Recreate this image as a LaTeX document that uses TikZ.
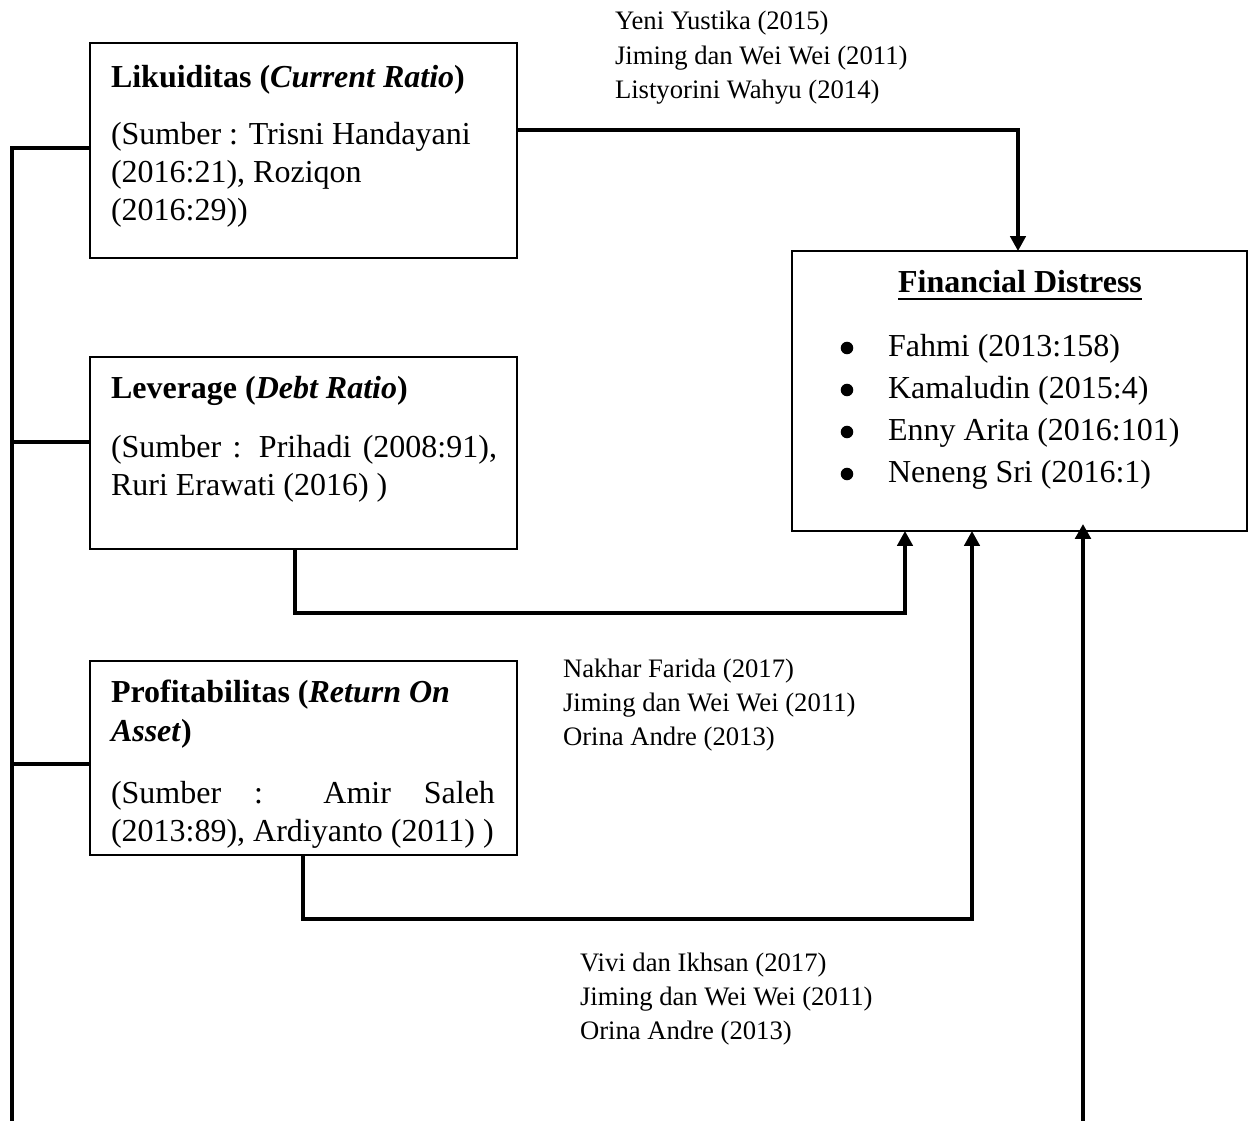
\documentclass[tikz,border=0pt]{standalone}
\usepackage{fontspec}
\setmainfont{Liberation Serif}
\usetikzlibrary{arrows.meta}
\tikzset{
  box/.style={draw, line width=0.55pt, inner sep=0pt, outer sep=0pt, anchor=north west},
  txt/.style={inner sep=0pt, outer sep=0pt, anchor=base west, font=\fontsize{12}{14.4}\selectfont},
  small/.style={inner sep=0pt, outer sep=0pt, anchor=base west, font=\fontsize{10}{12}\selectfont},
  conn/.style={line width=1.2pt},
  thickconn/.style={line width=1.5pt},
  tip/.style={-{Triangle[width=5.8pt,length=5.6pt]}},
  dot/.style={circle, fill=black, inner sep=0pt, minimum size=4.7pt},
}
\begin{document}
\begin{tikzpicture}[x=0.375pt,y=-0.375pt]
\useasboundingbox (0,0) rectangle (1255,1121);

% boxes
\node[box, minimum width={427*0.375pt}, minimum height={215*0.375pt}] (b1) at (90,43) {};
\node[box, minimum width={427*0.375pt}, minimum height={192*0.375pt}] (b2) at (90,357) {};
\node[box, minimum width={427*0.375pt}, minimum height={194*0.375pt}] (b3) at (90,661) {};
\node[box, minimum width={455*0.375pt}, minimum height={280*0.375pt}] (fd) at (792,251) {};

% box 1 text
\node[txt] (t1a) at (111,88) {\textbf{Likuiditas (\textit{Current Ratio})}};
\node[txt] (t1b) at (111,145) {(Sumber : Trisni Handayani};
\node[txt] (t1c) at (111,183) {(2016:21), Roziqon};
\node[txt] (t1d) at (111,221) {(2016:29))};

% box 2 text
\node[txt] (t2a) at (111,399) {\textbf{Leverage (\textit{Debt Ratio})}};
\node[txt] (t2b) at (111,458) {\makebox[144.75pt][s]{(Sumber : Prihadi (2008:91),}};
\node[txt] (t2c) at (111,496) {Ruri Erawati (2016) )};

% box 3 text
\node[txt] (t3a) at (111,703) {\textbf{Profitabilitas (\textit{Return On}}};
\node[txt] (t3b) at (111,742) {\textbf{\textit{Asset})}};
\node[txt] (t3c) at (111,804) {\makebox[144pt][s]{(Sumber : Amir Saleh}};
\node[txt] (t3d) at (111,842) {(2013:89), Ardiyanto (2011) )};

% financial distress text
\node[txt, anchor=base] (ttl) at (1020,293) {\textbf{Financial Distress}};
\draw[line width=1pt] ([yshift=-2.3pt]ttl.base west) -- ([yshift=-2.3pt]ttl.base east);
\node[dot] (bu1) at (847,348) {};
\node[dot] (bu2) at (847,390) {};
\node[dot] (bu3) at (847,432) {};
\node[dot] (bu4) at (847,474) {};
\node[txt] (f1) at (888,357) {Fahmi (2013:158)};
\node[txt] (f2) at (888,399) {Kamaludin (2015:4)};
\node[txt] (f3) at (888,441) {Enny Arita (2016:101)};
\node[txt] (f4) at (888,483) {Neneng Sri (2016:1)};

% small reference groups
\node[small] (y1) at (615,30) {Yeni Yustika (2015)};
\node[small] (y2) at (615,65) {Jiming dan Wei Wei (2011)};
\node[small] (y3) at (615,99) {Listyorini Wahyu (2014)};

\node[small] (n1) at (563,678) {Nakhar Farida (2017)};
\node[small] (n2) at (563,712) {Jiming dan Wei Wei (2011)};
\node[small] (n3) at (563,746) {Orina Andre (2013)};

\node[small] (v1) at (580,972) {Vivi dan Ikhsan (2017)};
\node[small] (v2) at (580,1006) {Jiming dan Wei Wei (2011)};
\node[small] (v3) at (580,1040) {Orina Andre (2013)};

% connectors
\coordinate (c1) at (1018,130);
\draw[conn, tip] (b1.east |- c1) -- (c1) -- (c1 |- fd.north);

\coordinate (c2) at (295,613);
\coordinate (c2b) at (905,613);
\draw[conn, tip] (c2 |- b2.south) -- (c2) -- (c2b) -- (c2b |- fd.south);

\coordinate (c3) at (303,919);
\coordinate (c3b) at (972,919);
\draw[conn, tip] (c3 |- b3.south) -- (c3) -- (c3b) -- (c3b |- fd.south);

\coordinate (r0) at (1083,1121);
\coordinate (r1) at (1083,524);
\draw[thickconn, tip] (r0) -- (r1);

% left bus
\coordinate (l0) at (12,1121);
\coordinate (l1) at (12,148);
\coordinate (l2) at (12,442);
\coordinate (l3) at (12,764);
\draw[thickconn] (l0) -- (l1) -- (l1 -| b1.west);
\draw[thickconn] (l2) -- (l2 -| b2.west);
\draw[thickconn] (l3) -- (l3 -| b3.west);
\end{tikzpicture}
\end{document}
